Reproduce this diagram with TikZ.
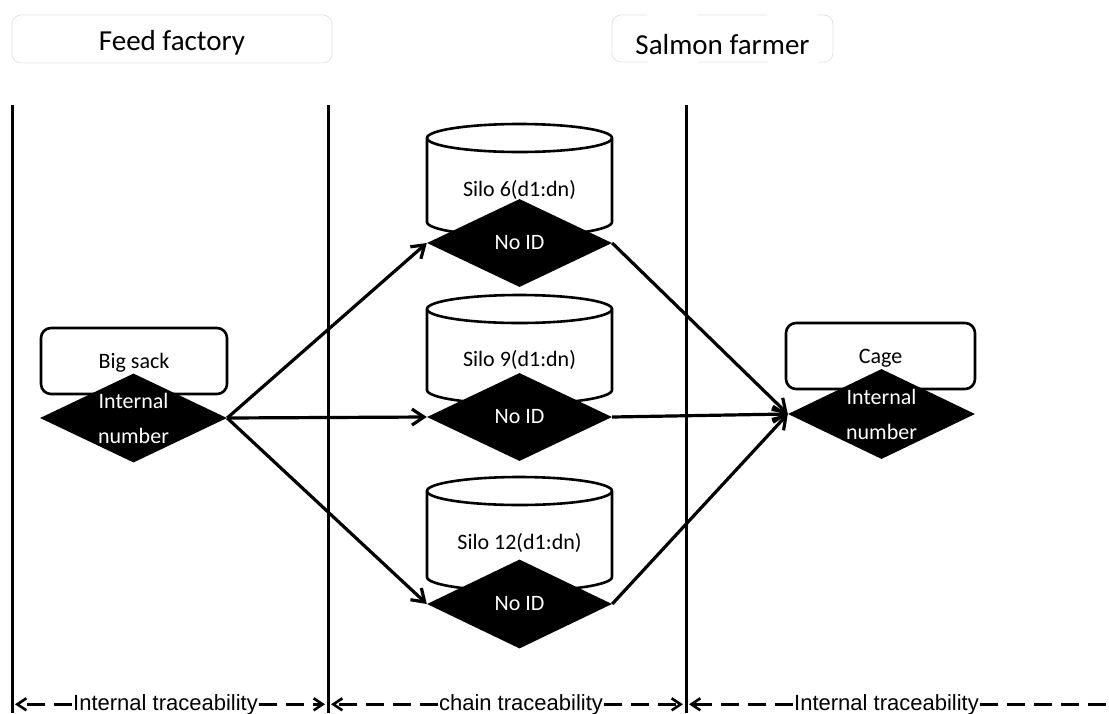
\documentclass[tikz,border=0pt]{standalone}
\usepackage{fontspec}
\setmainfont{Carlito}
\newfontfamily\arialfont{Liberation Sans}
\usetikzlibrary{shapes.geometric,arrows.meta}

\begin{document}
\begin{tikzpicture}[x=1pt,y=1pt,
  every node/.style={font=\fontsize{22}{35}\selectfont},
  headtext/.style={font=\fontsize{29}{34}\selectfont,inner sep=0pt,anchor=base},
  headframe/.style={draw=gray!22,line width=0.8pt,rounded corners=9pt},
  lotbox/.style={draw,line width=2.6pt,rounded corners=10pt,minimum width=#1,
    minimum height=66pt,inner sep=0pt,text depth=0pt},
  idmark/.style={diamond,fill=black,text=white,minimum width=#1,
    minimum height=88pt,aspect=2.1,inner sep=0pt,align=center},
  flow/.style={line width=3.2pt,
    -{Straight Barb[length=12pt,width=16pt,line width=3.2pt]}},
  tracearrow/.style={line width=2.8pt,dash pattern=on 18pt off 9pt,shorten >=3pt,
    -{Straight Barb[length=9pt,width=12pt,line width=2.6pt]}},
  traceline/.style={line width=2.8pt,dash pattern=on 18pt off 9pt},
  tracelabel/.style={font=\arialfont\fontsize{22}{26}\selectfont,inner sep=1pt,anchor=base},
  divider/.style={line width=3pt},
  silobody/.style={draw,fill=white,line width=2.6pt}
]
\useasboundingbox (0,0) rectangle (1109,-713);

% column headers
\draw[headframe] (12,-15) rectangle (332,-63);
\draw[headframe,dash pattern=on 70pt off 50pt] (612,-15) rectangle (833,-62);
\node[headtext] (ff) at (172,-50) {Feed factory};
\node[headtext] (sf) at (722.5,-54) {Salmon farmer};

% column dividers
\coordinate (d1t) at (12,-105);  \coordinate (d1b) at (12,-713);
\coordinate (d2t) at (328,-105); \coordinate (d2b) at (328,-713);
\coordinate (d3t) at (686,-105); \coordinate (d3b) at (686,-713);
\draw[divider] (d1t) -- (d1b);
\draw[divider] (d2t) -- (d2b);
\draw[divider] (d3t) -- (d3b);

% silos: cylinder body drawn from top-ellipse centre to bottom-ellipse centre
\newcommand{\silobody}[2]{%
  \draw[silobody] (427,#1) -- (427,#2)
    arc[start angle=180,end angle=360,x radius=92.5pt,y radius=14pt]
    -- (612,#1)
    arc[start angle=0,end angle=180,x radius=92.5pt,y radius=14pt] -- cycle;
  \draw[line width=2.6pt] (427,#1)
    arc[start angle=180,end angle=360,x radius=92.5pt,y radius=14pt];}

\silobody{-138}{-222}
\silobody{-309}{-390}
\silobody{-491}{-577}

\node (s6) at (519.5,-190) {Silo 6(d1:dn)};
\node (s9) at (519.5,-360) {Silo 9(d1:dn)};
\node (s12) at (519.5,-543) {Silo 12(d1:dn)};

\node[idmark=185pt] (n6) at (519.5,-243) {No ID};
\node[idmark=185pt] (n9) at (519.5,-417) {No ID};
\node[idmark=185pt,minimum height=89pt] (n12) at (519.5,-604) {No ID};

% big sack at the feed factory
\node[lotbox=186pt] (sack) at (134,-361) {Big sack};
\node[idmark=187pt,minimum height=89pt] (sackid) at (133.5,-418) {Internal\\number};

% cage at the salmon farmer
\node[lotbox=189pt] (cage) at (880.5,-356) {Cage};
\node[idmark=187pt,minimum height=90pt] (cageid) at (881.5,-414) {Internal\\number};

% material flow
\draw[flow] (sackid.east) -- (n6.west);
\draw[flow] (sackid.east) -- (n9.west);
\draw[flow] (sackid.east) -- (n12.west);
\draw[flow] (n6.east) -- (cageid.west);
\draw[flow] (n9.east) -- (cageid.west);
\draw[flow] (n12.east) -- (cageid.west);

% traceability spans
\node[tracelabel] (t1) at (165.5,-710) {Internal traceability};
\node[tracelabel] (t2) at (521,-710) {chain traceability};
\node[tracelabel] (t3) at (886.5,-710) {Internal traceability};
\coordinate (edge) at (1109,-713);

\draw[tracearrow] (t1.west) -- (t1.west -| d1b);
\draw[tracearrow] (t1.east) -- (t1.east -| d2b);
\draw[tracearrow] (t2.west) -- (t2.west -| d2b);
\draw[tracearrow] (t2.east) -- (t2.east -| d3b);
\draw[tracearrow] (t3.west) -- (t3.west -| d3b);
\draw[traceline] (t3.east) -- (t3.east -| edge);
\end{tikzpicture}
\end{document}
